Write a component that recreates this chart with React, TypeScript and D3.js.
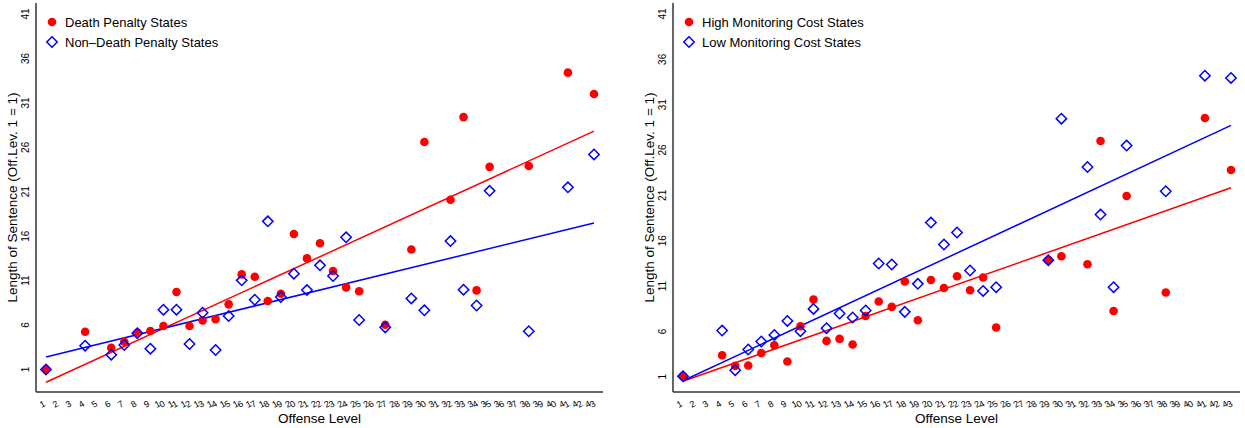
import React from 'react';
import * as d3 from 'd3';

// offense levels shown on both panels
const levelTicks = d3.range(1, 44);
const sentenceTicks = [1, 6, 11, 16, 21, 26, 31, 36, 41];

// left panel: death penalty vs non-death penalty states
const dpLevels = [1, 4, 6, 7, 8, 9, 10, 11, 12, 13, 14, 15, 16, 17, 18, 19, 20, 21, 22, 23, 24, 25, 27, 29, 30, 32, 33, 34, 35, 38, 41, 43];
const dpValues = [1.0, 5.25, 3.45, 4.13, 5.14, 5.33, 5.89, 9.72, 5.89, 6.53, 6.65, 8.33, 11.7, 11.44, 8.7, 9.53, 16.24, 13.5, 15.2, 12.08, 10.24, 9.8, 6.04, 14.5, 26.6, 20.1, 29.4, 9.9, 23.8, 23.9, 34.4, 32.0];
const ndpValues = [1.0, 3.68, 2.67, 3.76, 5.07, 3.34, 7.73, 7.73, 3.87, 7.39, 3.19, 7.02, 11.03, 8.85, 17.67, 9.16, 11.78, 9.94, 12.72, 11.52, 15.87, 6.57, 5.74, 9.0, 7.66, 15.45, 9.98, 8.2, 21.1, 5.3, 21.5, 25.2];
// fitted lines [intercept, slope]
const dpFit = [-1.113, 0.673];
const ndpFit = [2.051, 0.3588];

// right panel: high vs low monitoring cost states
const mcLevels = [1, 4, 5, 6, 7, 8, 9, 10, 11, 12, 13, 14, 15, 16, 17, 18, 19, 20, 21, 22, 23, 24, 25, 29, 30, 32, 33, 34, 35, 38, 41, 43];
const highValues = [1.05, 3.37, 2.19, 2.23, 3.62, 4.47, 2.67, 6.57, 9.51, 4.95, 5.17, 4.55, 7.7, 9.29, 8.7, 11.5, 7.23, 11.67, 10.79, 12.08, 10.54, 11.94, 6.42, 13.85, 14.29, 13.4, 27.0, 8.25, 20.93, 10.28, 29.53, 23.8];
const lowValues = [1.05, 6.09, 1.72, 4.0, 4.88, 5.61, 7.15, 6.02, 8.48, 6.35, 7.97, 7.53, 8.3, 13.48, 13.37, 8.15, 11.24, 18.0, 15.58, 16.9, 12.71, 10.46, 10.87, 13.85, 29.46, 24.13, 18.88, 10.87, 26.49, 21.45, 34.2, 33.95];
const highFit = [-0.008, 0.508];
const lowFit = [-0.12, 0.6707];

const FONT = "'Liberation Sans', Arial, Helvetica, sans-serif";
const AXIS_COLOR = '#333';

type PanelProps = {
  left: number;       // x of y-axis line
  right: number;      // end of x-axis line
  x1: number;         // pixel of level 1
  x43: number;        // pixel of level 43
  y1: number;         // pixel of value 1
  y41: number;        // pixel of value 41
  levels: number[];
  redVals: number[];
  blueVals: number[];
  redFit: number[];
  blueFit: number[];
  redLabel: string;
  blueLabel: string;
};

function diamond(cx: number, cy: number, r: number) {
  return `M${cx},${cy - r}L${cx + r},${cy}L${cx},${cy + r}L${cx - r},${cy}Z`;
}

function Panel(p: PanelProps) {
  const top = 3, bottom = 392;
  const x = d3.scaleLinear().domain([1, 43]).range([p.x1, p.x43]);
  const y = d3.scaleLinear().domain([1, 41]).range([p.y1, p.y41]);
  const fitPts = (f: number[]) => [1, 43].map(l => [l, f[0] + f[1] * l] as [number, number]);
  const fitLine = d3.line<[number, number]>().x(d => x(d[0])).y(d => y(d[1]));
  const red = p.levels.map((l, i) => ({ l, v: p.redVals[i] }));
  const blue = p.levels.map((l, i) => ({ l, v: p.blueVals[i] }));
  const midX = (p.left + p.right) / 2;
  const midY = (top + bottom) / 2;

  return (
    <g fontFamily={FONT}>
      {/* axes */}
      <line x1={p.left} x2={p.left} y1={top} y2={bottom} stroke={AXIS_COLOR} strokeWidth={1.5} />
      <line x1={p.left} x2={p.right} y1={bottom} y2={bottom} stroke={AXIS_COLOR} strokeWidth={1.5} />
      {sentenceTicks.map(t => (
        <text key={t} transform={`translate(${p.left - 7.5},${y(t)}) rotate(-90)`} textAnchor="middle" fontSize={10} fill="#000">{t}</text>
      ))}
      {levelTicks.map(t => (
        <text key={t} x={x(t) - 2} y={408} textAnchor="middle" fontSize={9} letterSpacing={-0.3} rotate={-30} fill="#000">{t}</text>
      ))}
      <text x={midX} y={423} textAnchor="middle" fontSize={13.5}>Offense Level</text>
      <text transform={`translate(${p.left - 19},${midY}) rotate(-90)`} textAnchor="middle" fontSize={13.5}>Length of Sentence (Off.Lev. 1 = 1)</text>

      {/* fitted lines */}
      <path d={fitLine(fitPts(p.redFit)) || ''} stroke="#ff0000" strokeWidth={1.5} fill="none" />
      <path d={fitLine(fitPts(p.blueFit)) || ''} stroke="#0000ff" strokeWidth={1.5} fill="none" />

      {/* points */}
      {red.map((d, i) => (
        <circle key={'r' + i} cx={x(d.l)} cy={y(d.v)} r={4.3} fill="#ff0000" />
      ))}
      {blue.map((d, i) => (
        <path key={'b' + i} d={diamond(x(d.l), y(d.v), 5.2)} fill="none" stroke="#0000ff" strokeWidth={1.5} />
      ))}

      {/* legend */}
      <circle cx={p.left + 16} cy={22} r={4.3} fill="#ff0000" />
      <text x={p.left + 29} y={26.5} fontSize={13}>{p.redLabel}</text>
      <path d={diamond(p.left + 16, 42, 5.2)} fill="none" stroke="#0000ff" strokeWidth={1.5} />
      <text x={p.left + 29} y={46.5} fontSize={13}>{p.blueLabel}</text>
    </g>
  );
}

export default function App() {
  return (
    <svg width={1245} height={428} style={{ position: 'absolute', left: 0, top: 0, background: '#fff' }}>
      <rect width={1245} height={428} fill="#fff" />
      <Panel
        left={36} right={603} x1={46} x43={594} y1={369.5} y41={14}
        levels={dpLevels} redVals={dpValues} blueVals={ndpValues}
        redFit={dpFit} blueFit={ndpFit}
        redLabel="Death Penalty States" blueLabel="Non–Death Penalty States"
      />
      <Panel
        left={673} right={1240} x1={683} x43={1231} y1={376.7} y41={14}
        levels={mcLevels} redVals={highValues} blueVals={lowValues}
        redFit={highFit} blueFit={lowFit}
        redLabel="High Monitoring Cost States" blueLabel="Low Monitoring Cost States"
      />
    </svg>
  );
}
